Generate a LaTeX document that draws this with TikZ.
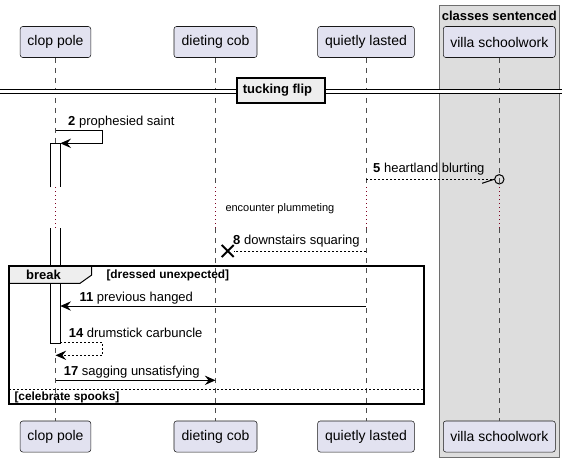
\documentclass[tikz,border=0pt]{standalone}
\usepackage{fontspec}
\setmainfont{Liberation Sans}
\usetikzlibrary{arrows.meta,shapes.misc}

\definecolor{partfill}{RGB}{226,226,240}
\definecolor{partline}{RGB}{24,24,24}
\definecolor{boxfill}{RGB}{221,221,221}
\definecolor{boxline}{RGB}{110,110,110}
\definecolor{tabfill}{RGB}{238,238,238}
\definecolor{delayred}{RGB}{128,0,32}

\tikzset{every picture/.style={line width=0.75pt}}
\tikzset{
  partbox/.style={draw=partline, fill=partfill, rounded corners=1.9pt, line width=0.4pt, minimum height=23.25pt, inner sep=0pt, font=\fontsize{10.5}{12}\selectfont},
  lifeline/.style={draw=gray!60!black, line width=0.4pt, dash pattern=on 3.75pt off 3.75pt},
  delayline/.style={draw=delayred, line width=0.6pt, dash pattern=on 0.75pt off 2.25pt},
  msg/.style={line width=0.75pt, -{Stealth[length=8pt,width=7pt,inset=2.8pt]}},
  rmsg/.style={msg, dash pattern=on 1.5pt off 1.5pt},
  msgtxt/.style={anchor=west, inner sep=0pt, font=\fontsize{9.75}{11}\selectfont},
  guardtxt/.style={anchor=west, inner sep=0pt, font=\bfseries\fontsize{8.9}{10}\selectfont},
}

\begin{document}
\begin{tikzpicture}[x=0.75pt,y=0.75pt,yscale=-1,xscale=1]

\useasboundingbox (0,0) rectangle (566,462);

\draw  [draw=boxline, line width=0.75pt, fill=boxfill] (439.3,5.3) rectangle (559.3,457.3) ;
\draw (499.3,15.5) node (grpTitle) [font=\bfseries\fontsize{9.75}{11}\selectfont] {classes sentenced};

\draw (55.5,42) node (clopT) [partbox, minimum width=52.95pt] {clop pole};
\draw (215.5,42) node (cobT) [partbox, minimum width=62.25pt] {dieting cob};
\draw (366,42) node (lastT) [partbox, minimum width=72.5pt] {quietly lasted};
\draw (499.3,42) node (villaT) [partbox, minimum width=84pt] {villa schoolwork};

\draw (55.5,436.5) node (clopB) [partbox, minimum width=52.95pt] {clop pole};
\draw (215.5,436.5) node (cobB) [partbox, minimum width=62.25pt] {dieting cob};
\draw (366,436.5) node (lastB) [partbox, minimum width=72.5pt] {quietly lasted};
\draw (499.3,436.5) node (villaB) [partbox, minimum width=84pt] {villa schoolwork};

\coordinate (dTop) at (0,187.3);
\coordinate (dBot) at (0,228.3);

\draw  [lifeline]  (clopT.south) -- (clopT.south |- dTop) ;
\draw  [delayline] (clopT.south |- dTop) -- (clopT.south |- dBot) ;
\draw  [lifeline]  (clopT.south |- dBot) -- (clopB.north) ;
\draw  [lifeline]  (cobT.south) -- (cobT.south |- dTop) ;
\draw  [delayline] (cobT.south |- dTop) -- (cobT.south |- dBot) ;
\draw  [lifeline]  (cobT.south |- dBot) -- (cobB.north) ;
\draw  [lifeline]  (lastT.south) -- (lastT.south |- dTop) ;
\draw  [delayline] (lastT.south |- dTop) -- (lastT.south |- dBot) ;
\draw  [lifeline]  (lastT.south |- dBot) -- (lastB.north) ;
\draw  [lifeline]  (villaT.south) -- (villaT.south |- dTop) ;
\draw  [delayline] (villaT.south |- dTop) -- (villaT.south |- dBot) ;
\draw  [lifeline]  (villaT.south |- dBot) -- (villaB.north) ;

\coordinate (divL) at (0,91.5);
\coordinate (divR) at (562,91.5);
\draw (281,90.5) node (divBox) [draw, line width=1.5pt, fill=tabfill, minimum width=66.2pt, minimum height=18.75pt, inner sep=0pt] {};
\draw  [double, double distance=2.25pt]  (divL) -- (divBox.west |- divL) ;
\draw  [double, double distance=2.25pt]  (divBox.east |- divR) -- (divR) ;
\draw (242.3,90.5) node (divTxt) [anchor=west, inner sep=0pt, font=\bfseries\fontsize{9.75}{11}\selectfont] {tucking flip};

\fill  [white] (50.3,143.3) rectangle (60.3,187.3) ;
\draw  (50.3,187.3) -- (50.3,143.3) -- (60.3,143.3) -- (60.3,187.3) ;
\fill  [white] (50.3,228.3) rectangle (60.3,343.3) ;
\draw  (50.3,228.3) -- (50.3,343.3) -- (60.3,343.3) -- (60.3,228.3) ;

\draw (225,208.3) node (delayTxt) [anchor=west, inner sep=0pt, font=\fontsize{8.25}{10}\selectfont] {encounter plummeting};

\coordinate (m2s) at (55.5,130.7);
\coordinate (m2e) at (60.3,143.3);
\draw  [msg]  (m2s) -- ++(46.8,0) |- (m2e) ;
\draw (67.7,121.7) node (m2t) [msgtxt] {\textbf{2} prophesied saint};

\coordinate (m5s) at (366,179.3);
\draw (499.3,179.3) node (m5o) [circle, draw, line width=0.75pt, minimum size=7pt, inner sep=0pt] {};
\draw  [dash pattern=on 1.5pt off 1.5pt]  (m5s) -- (m5o.west) ;
\draw  (m5o.west) -- ++(-12,4) ;
\draw (372.7,169.3) node (m5t) [msgtxt] {\textbf{5} heartland blurting};

\coordinate (m8s) at (366,251);
\draw (227.7,251) node (m8x) [cross out, draw, line width=1.5pt, minimum size=7.5pt, inner sep=0pt] {};
\draw  [dash pattern=on 1.5pt off 1.5pt]  (m8s) -- (m8x.east) ;
\draw (232.7,241) node (m8t) [msgtxt] {\textbf{8} downstairs squaring};

\draw  [line width=0.75pt, fill=tabfill]  (9.3,265.7) -- (91.7,265.7) -- (91.7,275) -- (80,283.3) -- (9.3,283.3) -- cycle ;
\draw  [line width=1.5pt]  (9.3,265.7) rectangle (424.3,404.3) ;
\draw (43.5,275) node (brkTxt) [font=\bfseries\fontsize{9.75}{11}\selectfont] {break};
\draw (106,275.5) node (brkGuard) [guardtxt] {[dressed unexpected]};

\coordinate (m11s) at (366,306);
\coordinate (m11e) at (60.3,306);
\draw  [msg]  (m11s) -- (m11e) ;
\draw (79,297.7) node (m11t) [msgtxt] {\textbf{11} previous hanged};

\coordinate (m14s) at (60.3,342.7);
\coordinate (m14e) at (55.5,355.3);
\draw  [rmsg]  (m14s) -- ++(42.4,0) |- (m14e) ;
\draw (68.3,332.7) node (m14t) [msgtxt] {\textbf{14} drumstick carbuncle};

\coordinate (m17s) at (55.5,380.3);
\coordinate (m17e) at (215.5,380.3);
\draw  [msg]  (m17s) -- (m17e) ;
\draw (63.3,371.7) node (m17t) [msgtxt] {\textbf{17} sagging unsatisfying};

\draw  [dash pattern=on 1.5pt off 1.5pt]  (9.3,389.3) -- (424.3,389.3) ;
\draw (14,397) node (elseGuard) [guardtxt] {[celebrate spooks]};

\end{tikzpicture}
\end{document}
